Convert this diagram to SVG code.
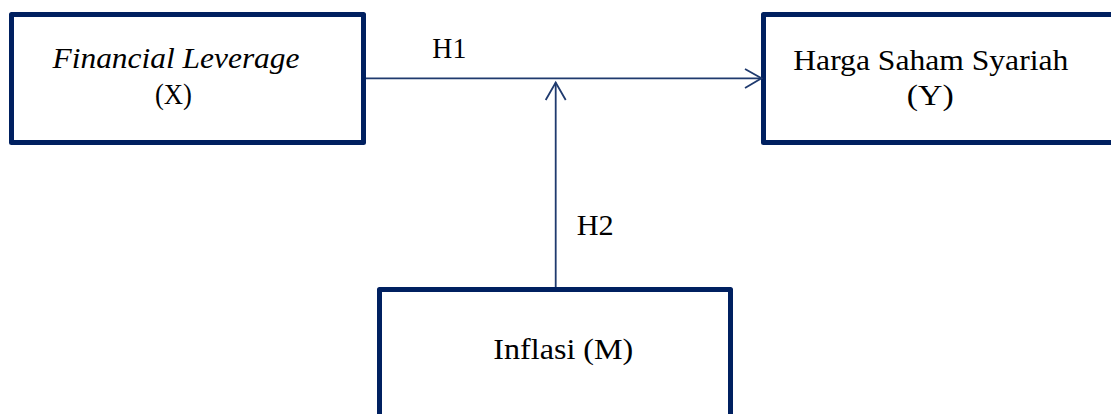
<svg xmlns="http://www.w3.org/2000/svg" width="1111" height="414" viewBox="0 0 1111 414">
<style>
.box{fill:#fff;stroke:#002060;stroke-width:5;stroke-linejoin:round}
.t{font-family:'Liberation Serif','Times New Roman',Times,serif;font-size:30px;fill:#000}
.it{font-style:italic}
.ln{fill:none;stroke:#1f3a6e;stroke-width:1.8}
</style>
<rect width="1111" height="414" fill="#fff"/>
<g id="node-x">
<rect class="box" x="11.5" y="14.5" width="352" height="128"/>
<text class="t it" font-family="Liberation Serif" x="52.5" y="68.3" textLength="247" lengthAdjust="spacingAndGlyphs">Financial Leverage</text>
<text class="t" font-family="Liberation Serif" x="155" y="104" textLength="37" lengthAdjust="spacingAndGlyphs">(X)</text>
</g>
<g id="node-y">
<rect class="box" x="763.5" y="14.5" width="400" height="128"/>
<text class="t" font-family="Liberation Serif" x="793.3" y="70" textLength="275" lengthAdjust="spacingAndGlyphs">Harga Saham Syariah</text>
<text class="t" font-family="Liberation Serif" x="906.7" y="105" textLength="47" lengthAdjust="spacingAndGlyphs">(Y)</text>
</g>
<g id="node-m">
<rect class="box" x="379.5" y="289.5" width="351" height="200"/>
<text class="t" font-family="Liberation Serif" x="493.3" y="359.3" textLength="140" lengthAdjust="spacingAndGlyphs">Inflasi (M)</text>
</g>
<g id="connectors">
<path class="ln" d="M366 78.3H761.5"/>
<path class="ln" d="M745 69L761.5 78.3L745 88"/>
<path class="ln" d="M555.7 287V82.5"/>
<path class="ln" d="M545.7 100L555.7 82.5L565.7 100"/>
<text class="t" font-family="Liberation Serif" x="432.3" y="58.3" textLength="34" lengthAdjust="spacingAndGlyphs">H1</text>
<text class="t" font-family="Liberation Serif" x="576.7" y="235" textLength="37" lengthAdjust="spacingAndGlyphs">H2</text>
</g>
</svg>
